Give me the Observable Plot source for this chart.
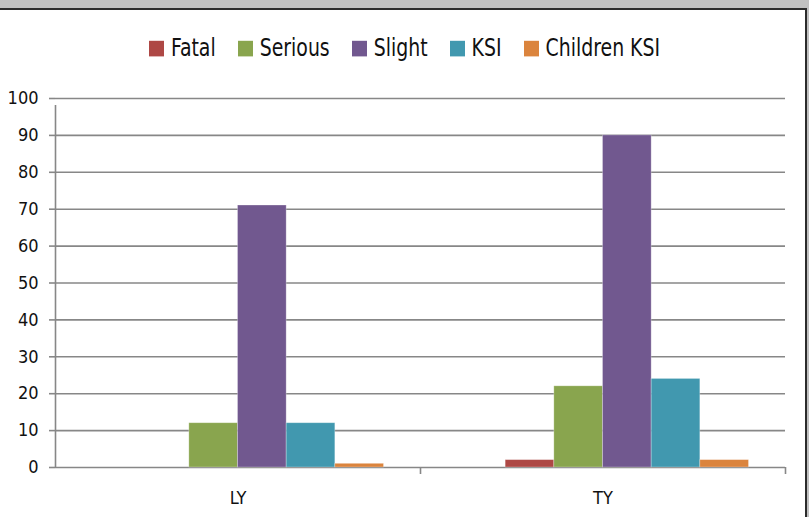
<!DOCTYPE html>
<html>
<head>
<meta charset="utf-8">
<script src="https://cdn.jsdelivr.net/npm/d3@7"></script>
<script src="https://cdn.jsdelivr.net/npm/@observablehq/plot@0.6"></script>
<style>
  html, body { margin: 0; padding: 0; background: #c0c0c0; width: 809px; height: 517px; overflow: hidden; }
  #frame { position: absolute; left: 0; top: 8px; width: 805px; height: 520px; background: #fff;
           border-top: 2px solid #2b2b2b; border-right: 2px solid #2b2b2b; }
  #legend { position: absolute; left: 0; top: 36px; width: 809px; display: flex; justify-content: center;
            align-items: center; font-family: "Liberation Sans Narrow", "DejaVu Sans Condensed", sans-serif;
            font-size: 21px; color: #111; gap: 22px; transform: scaleY(1.2); }
  #legend .item { display: flex; align-items: center; gap: 7px; }
  #legend .sw { width: 15px; height: 13px; display: inline-block; }
  #chart { position: absolute; left: 0; top: 10px; }
</style>
</head>
<body>
<div id="frame"></div>
<div id="legend"></div>
<div id="chart"></div>
<script>
const groups = ["LY", "TY"];
const series = ["Fatal", "Serious", "Slight", "KSI", "Children KSI"];
const colors = ["#ae4845", "#89a54e", "#71588f", "#4198af", "#db843d"];
const valuesLY = [0, 12, 71, 12, 1];
const valuesTY = [2, 22, 90, 24, 2];
const yTicks = [0, 10, 20, 30, 40, 50, 60, 70, 80, 90, 100];

const valuesByGroup = [valuesLY, valuesTY];
const data = [];
groups.forEach((g, gi) => series.forEach((s, si) => data.push({group: g, gi, series: s, si, value: valuesByGroup[gi][si]})));

// layout inside each category band: 7.5 bar-widths, bars start after 1.75
const slots = 7.5, lead = 1.75;

const legend = document.getElementById("legend");
series.forEach((s, i) => {
  const it = document.createElement("div");
  it.className = "item";
  it.innerHTML = `<span class="sw" style="background:${colors[i]}"></span><span>${s}</span>`;
  legend.appendChild(it);
});

const gridColor = "#878787";
const chart = Plot.plot({
  width: 805,
  height: 507,
  marginLeft: 55,
  marginRight: 20,
  marginTop: 88,
  marginBottom: 50,
  style: { fontFamily: "'Liberation Sans Narrow', 'DejaVu Sans Condensed', sans-serif", fontSize: "17px", color: "#111", background: "transparent" },
  x: { type: "linear", domain: [0, groups.length], axis: null },
  y: { type: "linear", domain: [0, 100], axis: null, label: null },
  color: { domain: series, range: colors },
  marks: [
    Plot.ruleY(yTicks, { stroke: gridColor, strokeWidth: 1.6 }),
    Plot.ruleX([0], { y1: 0, y2: 100, stroke: gridColor, strokeWidth: 1.6, insetBottom: -7 }),
    Plot.ruleX(d3.range(1, groups.length + 1), { y1: 0, y2: 0, stroke: gridColor, strokeWidth: 1.6, insetBottom: -7 }),
    Plot.rectY(data, {
      x1: d => d.gi + (lead + d.si) / slots,
      x2: d => d.gi + (lead + d.si + 1) / slots,
      y1: 0, y2: "value",
      fill: "series",
      stroke: "#ffffff", strokeOpacity: 0.35, strokeWidth: 0.8
    }),
    Plot.axisY({ ticks: yTicks, tickSize: 6, tickPadding: 11, stroke: gridColor, strokeWidth: 1.6, fontSize: 18, label: null }),
    Plot.text(groups, { x: (d, i) => i + 0.5, y: 0, text: d => d, dy: 31, fontSize: 18 })
  ]
});
document.getElementById("chart").appendChild(chart);
</script>
</body>
</html>
